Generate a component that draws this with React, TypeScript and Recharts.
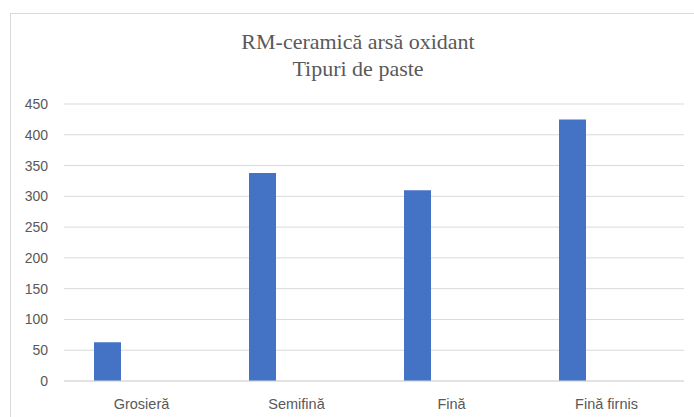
import { BarChart, Bar, XAxis, YAxis, CartesianGrid } from "recharts";

const categories = ["Grosieră", "Semifină", "Fină", "Fină firnis"];
const pasteValues = [63, 338, 310, 425];
// second series is empty in the source sheet, it only reserves the slot to the right of each bar
const emptySeries: (number | null)[] = [null, null, null, null];
const yTicks = [0, 50, 100, 150, 200, 250, 300, 350, 400, 450];

const data = categories.map((name, i) => ({
  name,
  paste: pasteValues[i],
  empty: emptySeries[i],
}));

const labelFont = "'Liberation Sans', Arial, sans-serif";

export default function App() {
  return (
    <div
      style={{
        position: "fixed",
        left: 0,
        top: 0,
        width: 694,
        height: 417,
        overflow: "hidden",
        background: "#fff",
      }}
    >
      <div
        style={{
          position: "absolute",
          left: 10,
          top: 13,
          width: 720,
          height: 440,
          border: "1px solid #d9d9d9",
          boxSizing: "border-box",
        }}
      />
      <div
        style={{
          position: "absolute",
          left: 0,
          top: 28,
          width: 716,
          textAlign: "center",
          fontFamily: "'Liberation Serif', 'Times New Roman', serif",
          fontSize: 22,
          lineHeight: "27px",
          color: "#595959",
        }}
      >
        <div>RM-ceramică arsă oxidant</div>
        <div>Tipuri de paste</div>
      </div>
      <div style={{ position: "absolute", left: 0, top: 0 }}>
        <BarChart
          width={694}
          height={417}
          data={data}
          margin={{ top: 104, right: 10, bottom: 6, left: 8 }}
          barCategoryGap={30}
          barGap={41}
        >
          <CartesianGrid vertical={false} stroke="#d9d9d9" strokeWidth={1} />
          <XAxis
            dataKey="name"
            height={30}
            axisLine={{ stroke: "#d9d9d9" }}
            tickLine={false}
            tickSize={0}
            tickMargin={18}
            tick={{ fontSize: 14.5, fill: "#595959", fontFamily: labelFont }}
          />
          <YAxis
            width={56}
            domain={[0, 450]}
            ticks={yTicks}
            axisLine={false}
            tickLine={false}
            tickSize={0}
            tickMargin={16}
            tick={{ fontSize: 14, fill: "#595959", fontFamily: labelFont }}
          />
          <Bar dataKey="paste" fill="#4472c4" isAnimationActive={false} />
          <Bar dataKey="empty" fill="#ed7d31" isAnimationActive={false} />
        </BarChart>
      </div>
    </div>
  );
}
